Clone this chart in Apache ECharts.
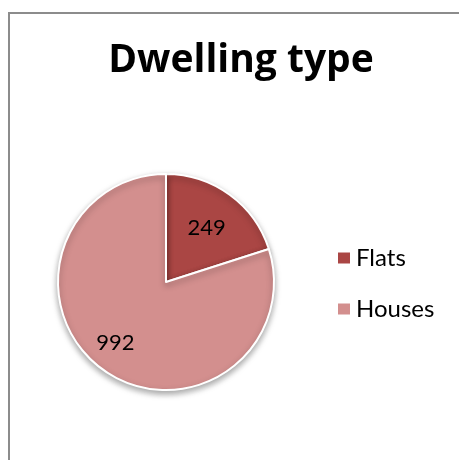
<!DOCTYPE html>
<html>
<head>
<meta charset="utf-8">
<script src="https://cdn.jsdelivr.net/npm/echarts@6/dist/echarts.min.js"></script>
<style>
  html, body { margin: 0; padding: 0; background: #fff; }
  #frame { position: absolute; left: 8px; top: 12px; width: 451px; height: 448px;
           border-left: 2px solid #8c8c8c; border-top: 2px solid #8c8c8c; }
  #chart { position: absolute; left: 0; top: 0; width: 459px; height: 460px; }
</style>
</head>
<body>
<div id="frame"></div>
<div id="chart"></div>
<script>
// dwelling types and counts
var types = ['Flats', 'Houses']
var counts = [249, 992]
var colors = ['#AA4644', '#D38F8E']
// nudges so labels sit where the original puts them
var labelOffsets = [[7, -8], [-17, 15]]

var myChart = echarts.init(document.getElementById('chart'))

var option = {
  animation: false,
  title: {
    text: 'Dwelling type',
    left: 236,
    top: 36,
    textAlign: 'center',
    textStyle: {
      fontFamily: 'Open Sans',
      fontWeight: 'bold',
      fontSize: 39,
      color: '#000'
    }
  },
  legend: {
    orient: 'vertical',
    left: 331,
    top: 241,
    itemWidth: 14,
    itemHeight: 13,
    itemGap: 27,
    icon: 'rect',
    textStyle: {
      fontFamily: 'Lato',
      fontSize: 24,
      color: '#000'
    },
    data: types
  },
  series: [{
    type: 'pie',
    center: [166, 282],
    radius: 108,
    startAngle: 90,
    clockwise: true,
    itemStyle: {
      borderColor: '#fff',
      borderWidth: 2,
      shadowBlur: 6,
      shadowOffsetY: 3,
      shadowColor: 'rgba(0, 0, 0, 0.35)'
    },
    label: {
      show: true,
      position: 'inside',
      formatter: '{c}',
      fontFamily: 'Lato',
      fontSize: 22,
      color: '#000'
    },
    emphasis: { disabled: true },
    data: types.map(function(name, i) {
      return {
        name: name,
        value: counts[i],
        itemStyle: { color: colors[i] },
        label: { offset: labelOffsets[i] }
      }
    })
  }]
}

myChart.setOption(option)
</script>
</body>
</html>
